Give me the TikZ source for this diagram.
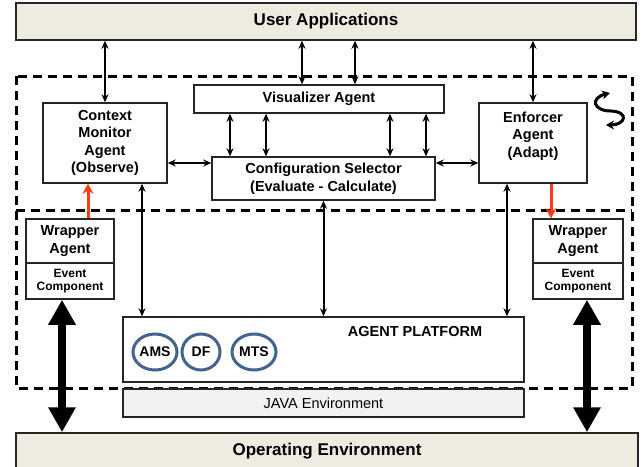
\documentclass[tikz,border=0pt]{standalone}
\usepackage{fontspec}
\setmainfont{Liberation Sans}
\usetikzlibrary{arrows.meta,shapes.geometric}
\definecolor{envfill}{HTML}{EEECE1}
\definecolor{javafill}{HTML}{F2F2F2}
\definecolor{ringblue}{HTML}{41648F}
\definecolor{adaptred}{HTML}{FF3A12}
\newcommand{\bigtxt}{\fontsize{17}{20}\selectfont\bfseries}
\newcommand{\midtxt}{\fontsize{14.5}{17.5}\selectfont\bfseries}
\newcommand{\smalltxt}{\fontsize{12}{13.5}\selectfont\bfseries}

\begin{document}
\begin{tikzpicture}[x=1pt,y=-1pt,
    box/.style={draw=black!85,line width=1.5pt,fill=white,inner sep=0pt,align=center,font=\midtxt},
    envbar/.style={box,fill=envfill,minimum width=620pt,minimum height=37pt,font=\bigtxt},
    ring/.style={ellipse,draw=ringblue,line width=3pt,fill=white,inner sep=0pt,minimum height=36pt,font=\fontsize{14}{16}\selectfont\bfseries},
    zone/.style={line width=3pt,dash pattern=on 9pt off 6pt},
    arr/.style={line width=2pt,{Stealth[length=8pt,width=7pt]}-{Stealth[length=8pt,width=7pt]}},
    redarr/.style={line width=3pt,adaptred,-{Stealth[length=10pt,width=11pt]}},
    bigarr/.style={line width=8pt,{Triangle[length=25pt,width=26pt]}-{Triangle[length=25pt,width=26pt]}}]
    \useasboundingbox (0,0) rectangle (642,466);

    % dashed agent zone
    \draw[zone] (16,76) rectangle (632,388);
    \draw[zone] (16,210) -- (632,210);

    % environments
    \node[envbar] (userapp) at (326,21.5) {User Applications};
    \node[envbar,minimum width=622pt] (openv) at (327,451.5) {Operating Environment};

    % agents
    \node[box,minimum width=124pt,minimum height=80pt] (cma) at (105,143) {Context\\Monitor\\Agent\\(Observe)};
    \node[box,minimum width=250pt,minimum height=28pt] (vis) at (319,99) {Visualizer Agent};
    \node[box,minimum width=223pt,minimum height=43pt] (conf) at (323.5,178.5) {Configuration Selector\\(Evaluate - Calculate)};
    \node[box,minimum width=108pt,minimum height=80pt] (enf) at (533,143) {};
    \node[font=\midtxt,align=center] at ([yshift=7pt]enf.center) {Enforcer\\Agent\\(Adapt)};

    % wrappers
    \node[box,minimum width=88pt,minimum height=44pt] (lwrap) at (70,241) {Wrapper\\Agent};
    \node[box,font=\smalltxt,minimum width=88pt,minimum height=36pt] (levent) at (70,281) {Event\\Component};
    \node[box,minimum width=90pt,minimum height=44pt] (rwrap) at (578,241) {Wrapper\\Agent};
    \node[box,font=\smalltxt,minimum width=90pt,minimum height=36pt] (revent) at (578,281) {Event\\Component};

    % platform
    \node[box,minimum width=401pt,minimum height=65pt] (platform) at (323.5,349.5) {};
    \node[font=\midtxt] at (415,332) {AGENT PLATFORM};
    \node[box,fill=javafill,font=\fontsize{14.5}{17}\selectfont,minimum width=401pt,minimum height=28pt] (java) at (323.5,403) {JAVA Environment};
    \node[ring,minimum width=44pt] (ams) at (155,352) {AMS};
    \node[ring,minimum width=38pt] (df) at (201,352) {DF};
    \node[ring,minimum width=44pt] (mts) at (254,352) {MTS};

    % links to user applications
    \draw[arr] (cma.north) -- (cma.north |- userapp.south);
    \draw[arr] (enf.north) -- (enf.north |- userapp.south);
    \foreach \dx [count=\i] in {-17,36} {
      \path (vis.north) ++(\dx,0) coordinate (vu\i);
      \draw[arr] (vu\i) -- (vu\i |- userapp.south);
    }
    % visualizer <-> selector
    \foreach \dx [count=\i] in {-93.5,-57.5,66.5,102.5} {
      \path (conf.north) ++(\dx,0) coordinate (cv\i);
      \draw[arr] (cv\i) -- (cv\i |- vis.south);
    }
    \path (conf.west) ++(0,-15.5) coordinate (cw);
    \draw[arr] (cw) -- (cw -| cma.east);
    \path (conf.east) ++(0,-15.5) coordinate (ce);
    \draw[arr] (ce) -- (ce -| enf.west);

    % links to the platform
    \path (cma.south) ++(37,0) coordinate (cp);
    \draw[arr] (cp) -- (cp |- platform.north);
    \draw[arr] (conf.south) -- (conf.south |- platform.north);
    \path (enf.south) ++(-26,0) coordinate (ep);
    \draw[arr] (ep) -- (ep |- platform.north);

    % observe / adapt
    \path (lwrap.north) ++(18,0) coordinate (lr);
    \draw[redarr] (lr) -- (lr |- cma.south);
    \path (enf.south) ++(18,0) coordinate (er);
    \draw[redarr] (er) -- (er |- rwrap.north);

    % wrappers <-> operating environment
    \path (levent.south) ++(-8,0) coordinate (lb);
    \draw[bigarr] (lb) -- (lb |- openv.north);
    \path (revent.south) ++(9,0) coordinate (rb);
    \draw[bigarr] (rb) -- (rb |- openv.north);

    % adaptation loop sign
    \draw[line width=3pt,{Stealth[length=8pt,width=9pt]}-{Stealth[length=8pt,width=9pt]}]
      (610,93) .. controls (590,98) and (593,111) .. (611,111)
      .. controls (630,112) and (625,125) .. (606,125);
  \end{tikzpicture}
\end{document}
